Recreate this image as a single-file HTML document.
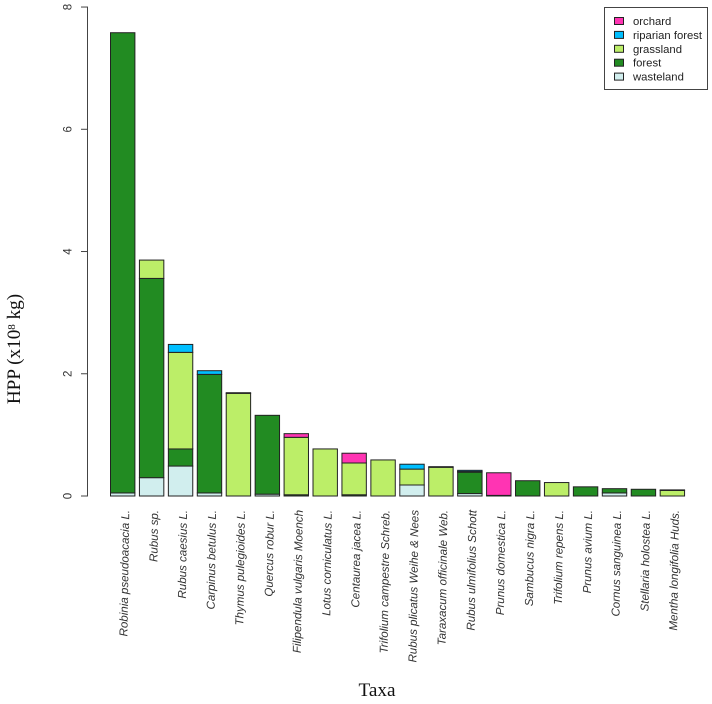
<!DOCTYPE html>
<html>
<head>
<meta charset="utf-8">
<title>HPP by taxa</title>
<style>
html,body{margin:0;padding:0;background:#fff;}
svg{display:block;}
text{font-family:"Liberation Sans",sans-serif;}
</style>
</head>
<body>
<svg id="chart" width="712" height="704" viewBox="0 0 712 704" xmlns="http://www.w3.org/2000/svg">
  <rect x="0" y="0" width="712" height="704" fill="#ffffff"/>
  <g id="bars"></g>
  <g id="yaxis"></g>
  <g id="xlabels"></g>
  <text transform="translate(20,349) rotate(-90)" text-anchor="middle" style="font-family:'Liberation Serif',serif;font-size:19.2px" fill="#111">HPP (x10<tspan dy="-5" font-size="11">8</tspan><tspan dy="5"> kg)</tspan></text>
  <text x="377" y="696" text-anchor="middle" style="font-family:'Liberation Serif',serif;font-size:19.2px" fill="#111">Taxa</text>
  <g id="legend"></g>
</svg>
<script>
var taxa = ["Robinia pseudoacacia L.","Rubus sp.","Rubus caesius L.","Carpinus betulus L.","Thymus pulegioides L.","Quercus robur L.","Filipendula vulgaris Moench","Lotus corniculatus L.","Centaurea jacea L.","Trifolium campestre Schreb.","Rubus plicatus Weihe & Nees","Taraxacum officinale Web.","Rubus ulmifolius Schott","Prunus domestica L.","Sambucus nigra L.","Trifolium repens L.","Prunus avium L.","Cornus sanguinea L.","Stellaria holostea L.","Mentha longifolia Huds."];
var wasteland = [0.05,0.30,0.49,0.05,0,0.03,0,0,0,0,0.18,0,0.04,0,0,0,0,0.05,0,0];
var forest = [7.53,3.26,0.28,1.94,0,1.29,0.02,0,0.02,0,0,0,0.35,0.01,0.25,0,0.15,0.07,0.11,0];
var grassland = [0,0.30,1.58,0,1.68,0,0.94,0.77,0.52,0.59,0.26,0.47,0.01,0,0,0.22,0,0,0,0.09];
var riparian = [0,0,0.13,0.06,0.01,0,0,0,0,0,0.08,0.01,0.02,0,0,0,0,0,0,0.01];
var orchard = [0,0,0,0,0,0,0.06,0,0.16,0,0,0,0,0.37,0,0,0,0,0,0];
var yTicks = [0,2,4,6,8];
var legendLabels = ["orchard","riparian forest","grassland","forest","wasteland"];

var NS = "http://www.w3.org/2000/svg";
var stackSeries = [wasteland, forest, grassland, riparian, orchard];
var stackNames = ["wasteland","forest","grassland","riparian-forest","orchard"];
var stackColors = ["#d1eeee","#228b22","#bcee68","#00bfff","#ff34b3"];
var legendColors = ["#ff34b3","#00bfff","#bcee68","#228b22","#d1eeee"];

function yScale(v){ return 496 - v * 61.12; }
function xScale(i){ return 110.5 + i * 28.93; }
var barWidth = 24.4;

function make(tag, parent){
  var el = document.createElementNS(NS, tag);
  parent.appendChild(el);
  return el;
}

var barsGroup = document.getElementById("bars");
taxa.forEach(function(name, i){
  var base = 0;
  stackSeries.forEach(function(series, s){
    var v = series[i];
    if (v <= 0) return;
    var r = make("rect", barsGroup);
    
    
    r.setAttribute("x", xScale(i));
    r.setAttribute("width", barWidth);
    r.setAttribute("y", yScale(base + v));
    r.setAttribute("height", yScale(base) - yScale(base + v));
    r.setAttribute("fill", stackColors[s]);
    r.setAttribute("stroke", "#222");
    r.setAttribute("stroke-width", "1");
    base += v;
  });
});

var yAxis = document.getElementById("yaxis");
var axisLine = make("line", yAxis);


axisLine.setAttribute("x1", 87.5);
axisLine.setAttribute("x2", 87.5);
axisLine.setAttribute("y1", yScale(yTicks[yTicks.length - 1]));
axisLine.setAttribute("y2", yScale(yTicks[0]));
axisLine.setAttribute("stroke", "#444");
yTicks.forEach(function(t){
  var tick = make("line", yAxis);
  
  
  tick.setAttribute("x1", 81);
  tick.setAttribute("x2", 88);
  tick.setAttribute("y1", yScale(t));
  tick.setAttribute("y2", yScale(t));
  tick.setAttribute("stroke", "#444");
  var lab = make("text", yAxis);
  
  
  lab.setAttribute("transform", "translate(71.5," + yScale(t) + ") rotate(-90)");
  lab.setAttribute("text-anchor", "middle");
  lab.setAttribute("font-size", "11.5");
  lab.setAttribute("fill", "#333");
  lab.textContent = String(t);
});

var xGroup = document.getElementById("xlabels");
taxa.forEach(function(name, i){
  var lab = make("text", xGroup);
  
  
  lab.setAttribute("transform", "translate(" + (xScale(i) + barWidth / 2 + 6.5) + ",510) rotate(-89.2)");
  lab.setAttribute("text-anchor", "end");
  lab.setAttribute("font-size", "11.55");
  lab.setAttribute("font-style", "italic");
  lab.setAttribute("fill", "#333");
  lab.textContent = name;
});

var legend = document.getElementById("legend");
var box = make("rect", legend);


box.setAttribute("x", 604.5);
box.setAttribute("y", 7.5);
box.setAttribute("width", 103);
box.setAttribute("height", 82);
box.setAttribute("fill", "#fff");
box.setAttribute("stroke", "#444");
legendLabels.forEach(function(label, i){
  var cy = 21 + i * 13.9;
  var sw = make("rect", legend);
  
  
  sw.setAttribute("x", 614.5);
  sw.setAttribute("y", cy - 3.5);
  sw.setAttribute("width", 9);
  sw.setAttribute("height", 7);
  sw.setAttribute("fill", legendColors[i]);
  sw.setAttribute("stroke", "#222");
  var t = make("text", legend);
  
  
  t.setAttribute("x", 633);
  t.setAttribute("y", cy + 4);
  t.setAttribute("font-size", "11.3");
  t.setAttribute("fill", "#222");
  t.textContent = label;
});
</script>
</body>
</html>
